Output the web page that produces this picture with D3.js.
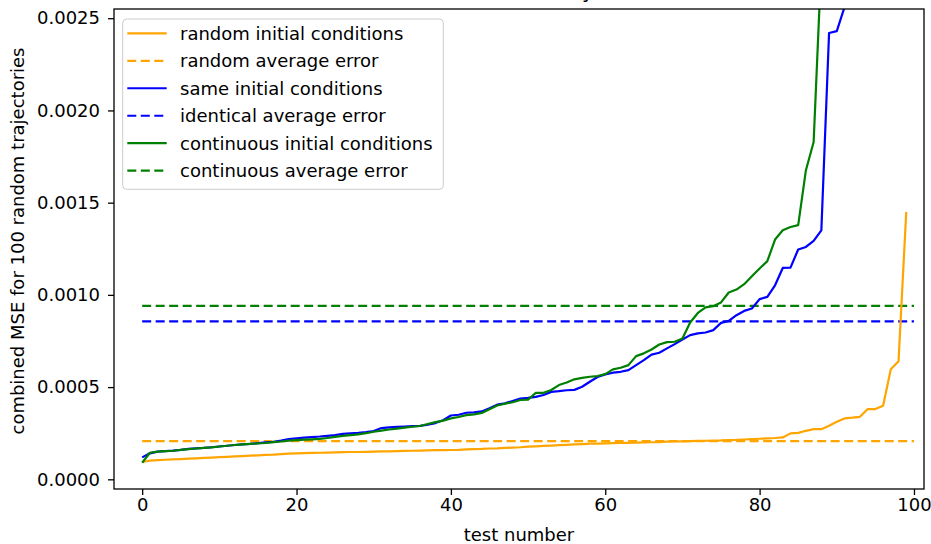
<!DOCTYPE html>
<html>
<head>
<meta charset="utf-8">
<script src="https://cdn.jsdelivr.net/npm/d3@7"></script>
<style>
  body { margin: 0; background: #fff; }
  text { font-family: "DejaVu Sans", sans-serif; }
</style>
</head>
<body>
<script>
// sorted MSE per test
var testNumbers = d3.range(100);

var randomMse = [
  0.000094, 0.000101, 0.000104, 0.000106, 0.000108, 0.000110, 0.000112, 0.000114, 0.000116, 0.000118,
  0.000120, 0.000122, 0.000124, 0.000126, 0.000128, 0.000130, 0.000132, 0.000134, 0.000137, 0.000139,
  0.000141, 0.000142, 0.000143, 0.000144, 0.000145, 0.000146, 0.000147, 0.000148, 0.000148, 0.000149,
  0.000150, 0.000151, 0.000152, 0.000153, 0.000154, 0.000155, 0.000156, 0.000157, 0.000158, 0.000158,
  0.000159, 0.000160, 0.000162, 0.000164, 0.000165, 0.000167, 0.000168, 0.000170, 0.000172, 0.000174,
  0.000177, 0.000179, 0.000181, 0.000183, 0.000185, 0.000187, 0.000189, 0.000191, 0.000193, 0.000194,
  0.000195, 0.000196, 0.000197, 0.000198, 0.000199, 0.000200, 0.000201, 0.000202, 0.000204, 0.000205,
  0.000206, 0.000207, 0.000208, 0.000209, 0.000210, 0.000211, 0.000213, 0.000214, 0.000216, 0.000218,
  0.000220, 0.000222, 0.000224, 0.000227, 0.000249, 0.000252, 0.000263, 0.000272, 0.000272, 0.000290,
  0.000312, 0.000330, 0.000334, 0.000339, 0.000381, 0.000381, 0.000399, 0.000597, 0.000640, 0.001450
];

var sameMse = [
  0.000119, 0.000141, 0.000150, 0.000153, 0.000156, 0.000160, 0.000165, 0.000168, 0.000170, 0.000174,
  0.000178, 0.000182, 0.000186, 0.000189, 0.000192, 0.000196, 0.000200, 0.000203, 0.000210, 0.000218,
  0.000222, 0.000226, 0.000229, 0.000232, 0.000236, 0.000240, 0.000246, 0.000249, 0.000252, 0.000256,
  0.000262, 0.000278, 0.000282, 0.000284, 0.000286, 0.000288, 0.000290, 0.000296, 0.000305, 0.000320,
  0.000346, 0.000350, 0.000361, 0.000363, 0.000368, 0.000385, 0.000405, 0.000412, 0.000425, 0.000438,
  0.000442, 0.000447, 0.000457, 0.000474, 0.000478, 0.000483, 0.000485, 0.000502, 0.000529, 0.000555,
  0.000569, 0.000578, 0.000583, 0.000592, 0.000619, 0.000646, 0.000676, 0.000686, 0.000710, 0.000733,
  0.000758, 0.000782, 0.000791, 0.000796, 0.000809, 0.000848, 0.000859, 0.000890, 0.000913, 0.000926,
  0.000977, 0.000989, 0.001052, 0.001146, 0.001148, 0.001246, 0.001260, 0.001293, 0.001350, 0.002420,
  0.002430, 0.002560, 0.002700, 0.002900, 0.003200, 0.003600, 0.004000, 0.004700, 0.005800, 0.008500
];

var continuousMse = [
  0.000090, 0.000144, 0.000150, 0.000153, 0.000155, 0.000160, 0.000164, 0.000167, 0.000170, 0.000173,
  0.000178, 0.000182, 0.000186, 0.000189, 0.000192, 0.000195, 0.000197, 0.000202, 0.000205, 0.000210,
  0.000213, 0.000215, 0.000217, 0.000219, 0.000224, 0.000230, 0.000236, 0.000240, 0.000244, 0.000250,
  0.000258, 0.000264, 0.000270, 0.000275, 0.000280, 0.000285, 0.000289, 0.000300, 0.000310, 0.000318,
  0.000330, 0.000338, 0.000348, 0.000352, 0.000360, 0.000380, 0.000400, 0.000410, 0.000418, 0.000430,
  0.000432, 0.000469, 0.000469, 0.000484, 0.000511, 0.000525, 0.000542, 0.000550, 0.000556, 0.000560,
  0.000570, 0.000596, 0.000605, 0.000619, 0.000668, 0.000683, 0.000704, 0.000731, 0.000744, 0.000746,
  0.000764, 0.000850, 0.000902, 0.000932, 0.000939, 0.000959, 0.001013, 0.001029, 0.001058, 0.001101,
  0.001143, 0.001183, 0.001300, 0.001350, 0.001368, 0.001378, 0.001676, 0.001829, 0.002800, 0.003000,
  0.003100, 0.003300, 0.003500, 0.003700, 0.003900, 0.004200, 0.004500, 0.004900, 0.005500, 0.006600
];

// horizontal average lines
var averageErrors = [0.0002075, 0.000856, 0.000940];
var averageSpan = [0, 100];

var seriesNames = [
  "random initial conditions", "random average error",
  "same initial conditions", "identical average error",
  "continuous initial conditions", "continuous average error"
];
var seriesColors = ["orange", "blue", "green"];

var yTicks = [0, 0.0005, 0.001, 0.0015, 0.002, 0.0025];
var xTicks = [0, 20, 40, 60, 80, 100];

var W = 931, H = 544;
var m = {left: 114, right: 924, top: 9, bottom: 489};
var fs = 18;

var svg = d3.select('body').append('svg')
    .attr('width', W)
    .attr('height', H);

var x = d3.scaleLinear().domain([-3.65, 101.3]).range([m.left, m.right]);
var y = d3.scaleLinear().domain([-0.0000525, 0.00255]).range([m.bottom, m.top]);

svg.append('clipPath').attr('id', 'clip')
  .append('rect')
    .attr('x', m.left).attr('y', m.top)
    .attr('width', m.right - m.left).attr('height', m.bottom - m.top);

// title, mostly cut off above the figure
svg.append('text')
    .attr('x', 519)
    .attr('y', -2)
    .attr('text-anchor', 'middle')
    .style('font-size', '20px')
    .text('Error summary');

var plot = svg.append('g').attr('clip-path', 'url(#clip)');

var line = d3.line()
    .x((d, i) => x(testNumbers[i]))
    .y((d) => y(d));

var curves = [randomMse, sameMse, continuousMse];

curves.forEach((vals, k) => {
  plot.append('line')
      .attr('x1', x(averageSpan[0])).attr('x2', x(averageSpan[1]))
      .attr('y1', y(averageErrors[k])).attr('y2', y(averageErrors[k]))
      .attr('stroke', seriesColors[k])
      .attr('stroke-width', 2.2)
      .attr('stroke-dasharray', '9,4.5');
});

curves.forEach((vals, k) => {
  plot.append('path')
      .datum(vals)
      .attr('d', line)
      .attr('fill', 'none')
      .attr('stroke', seriesColors[k])
      .attr('stroke-width', 2.2)
      .attr('stroke-linejoin', 'round');
});

// axes
var yAxis = svg.append('g')
    .attr('transform', 'translate(' + m.left + ',0)')
    .call(d3.axisLeft(y).tickValues(yTicks).tickFormat(d3.format('.4f')).tickSize(6).tickPadding(8));

var xAxis = svg.append('g')
    .attr('transform', 'translate(0,' + m.bottom + ')')
    .call(d3.axisBottom(x).tickValues(xTicks).tickFormat(d3.format('d')).tickSize(6).tickPadding(3));

[xAxis, yAxis].forEach((a) => {
  a.select('.domain').remove();
  a.selectAll('line').attr('stroke', '#000').attr('stroke-width', 1.3);
  a.selectAll('text')
      .attr('fill', '#000')
      .style('font-family', '"DejaVu Sans", sans-serif')
      .style('font-size', fs + 'px');
});

svg.append('rect')
    .attr('x', m.left).attr('y', m.top)
    .attr('width', m.right - m.left).attr('height', m.bottom - m.top)
    .attr('fill', 'none')
    .attr('stroke', '#000')
    .attr('stroke-width', 1.3);

svg.append('text')
    .attr('x', (m.left + m.right) / 2)
    .attr('y', 541)
    .attr('text-anchor', 'middle')
    .style('font-size', fs + 'px')
    .text('test number');

svg.append('text')
    .attr('transform', 'translate(24,241) rotate(-90)')
    .attr('text-anchor', 'middle')
    .style('font-size', fs + 'px')
    .text('combined MSE for 100 random trajectories');

// legend
var legend = svg.append('g');
legend.append('rect')
    .attr('x', 122.7).attr('y', 19)
    .attr('width', 320.6).attr('height', 170.3)
    .attr('rx', 4)
    .attr('fill', '#fff').attr('fill-opacity', 0.8)
    .attr('stroke', '#ccc');

var rowY = d3.scaleLinear().domain([0, 5]).range([33.3, 170.7]);

seriesNames.forEach((name, i) => {
  var g = legend.append('g').attr('transform', 'translate(0,' + rowY(i) + ')');
  g.append('line')
      .attr('x1', 127.3).attr('x2', 166.7)
      .attr('stroke', seriesColors[Math.floor(i / 2)])
      .attr('stroke-width', 2.2)
      .attr('stroke-dasharray', i % 2 ? '9,4.5' : null);
  g.append('text')
      .attr('x', 180)
      .attr('dy', '0.35em')
      .style('font-size', fs + 'px')
      .text(name);
});
</script>
</body>
</html>
